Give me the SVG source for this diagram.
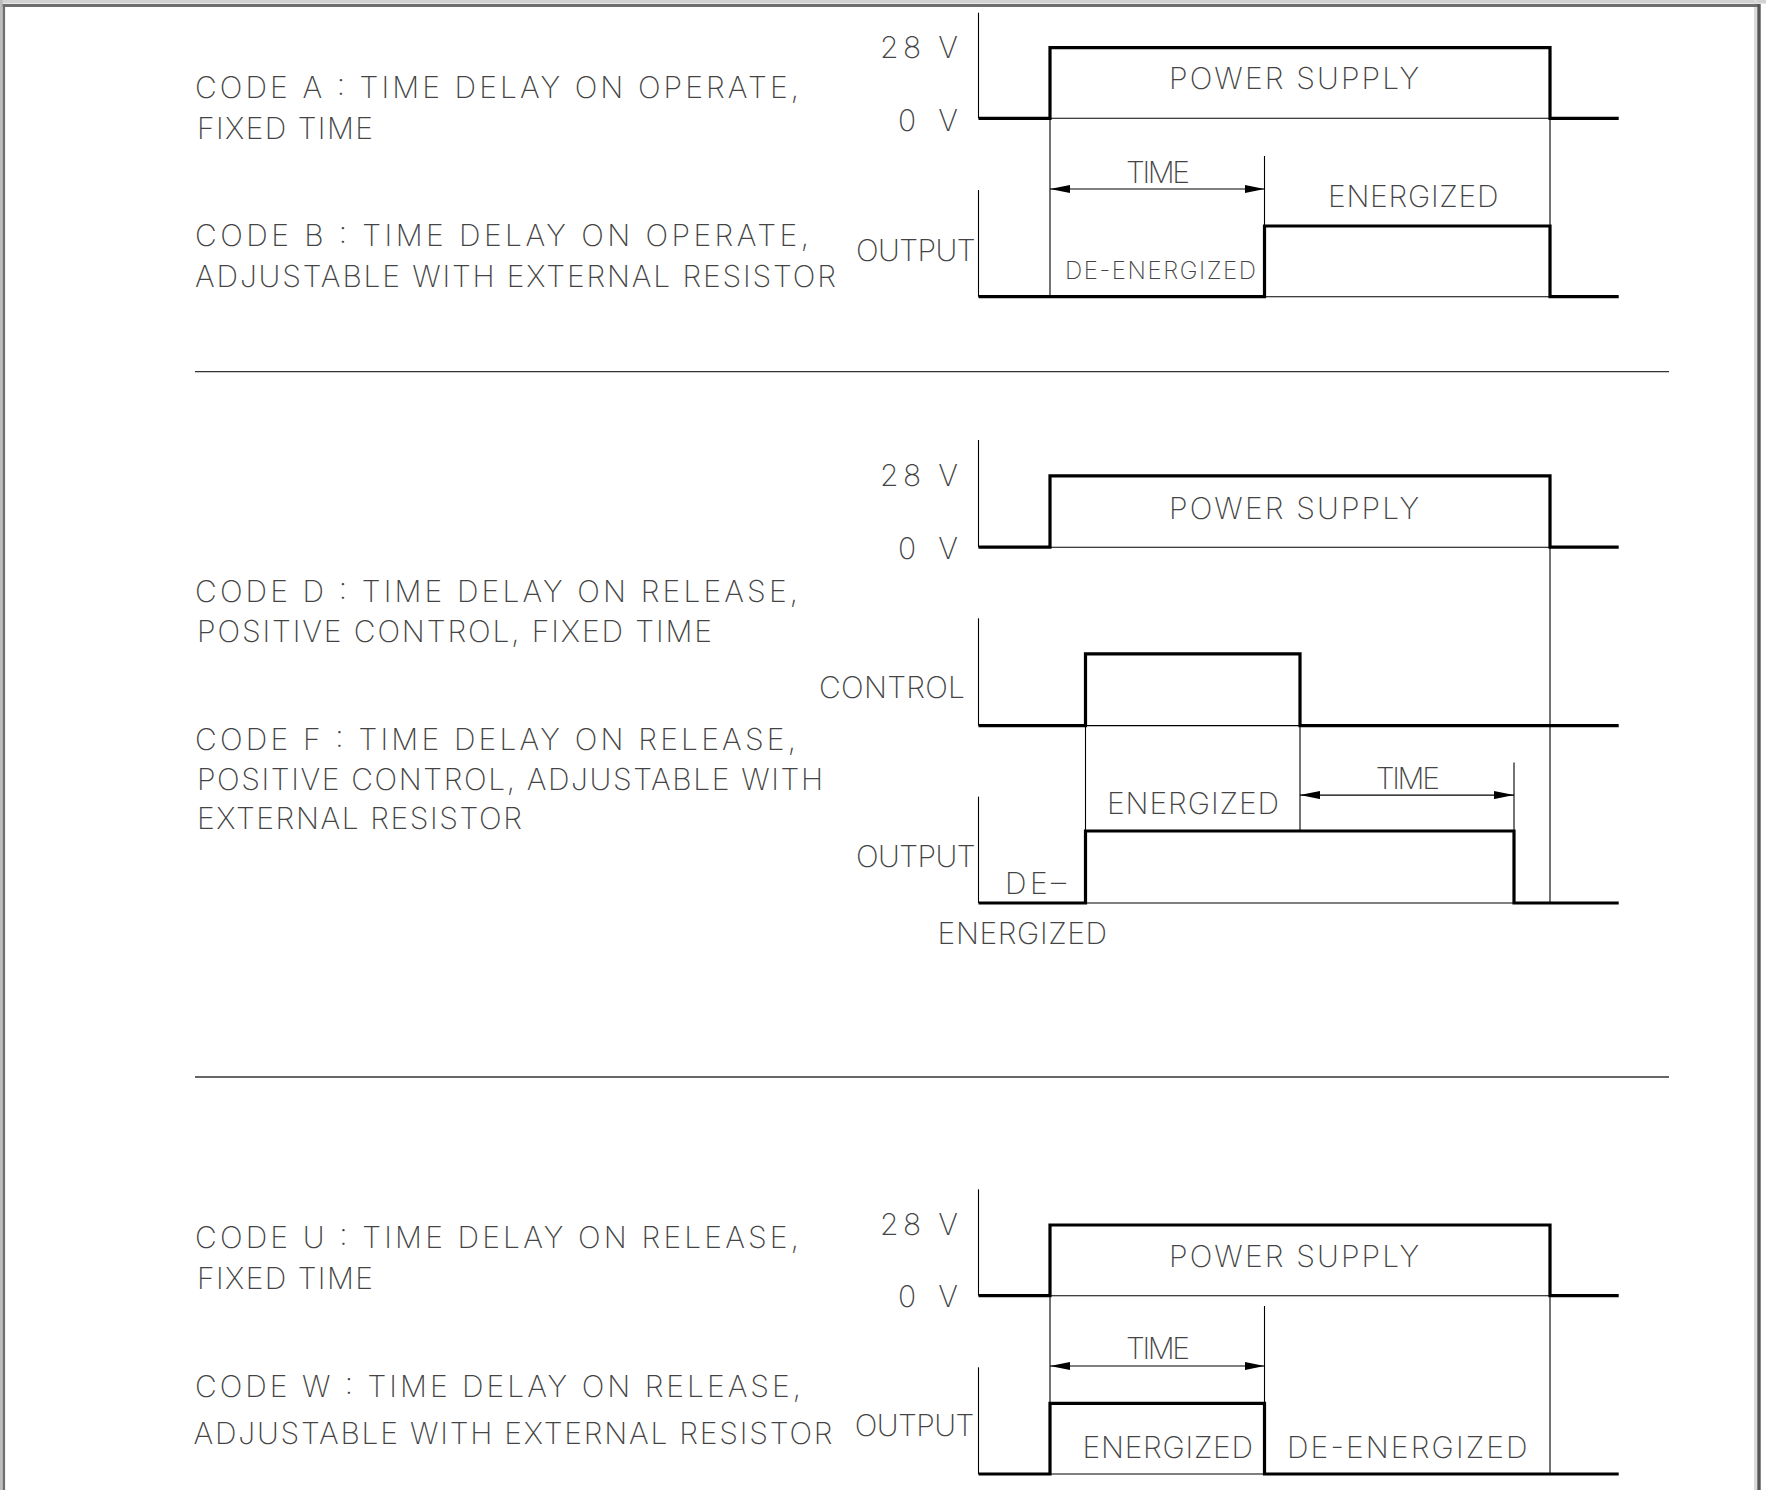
<svg xmlns="http://www.w3.org/2000/svg" width="1766" height="1490" viewBox="0 0 1766 1490">
<style>
text{font-family:"Inter","Liberation Sans",sans-serif;font-weight:200;font-size:30px;fill:#444}
.sm{font-size:24px}
.thick{fill:none;stroke:#000;stroke-width:3.2;stroke-linejoin:miter}
.thin{fill:none;stroke:#000;stroke-width:1.1}
.div{fill:none;stroke:#333;stroke-width:1.3}
.dim{fill:none;stroke:#000;stroke-width:1.2;marker-start:url(#ah);marker-end:url(#ah)}
</style>
<defs>
<marker id="ah" viewBox="0 0 20 8" refX="20" refY="4" markerWidth="20" markerHeight="8" markerUnits="userSpaceOnUse" orient="auto-start-reverse">
<path d="M0,0 L20,4 L0,8 Z" fill="#000"/>
</marker>
</defs>
<rect width="1766" height="1490" fill="#fff"/>
<g id="frame">
<rect x="0" y="0" width="1766" height="3.5" fill="#d2d2d2"/>
<rect x="0" y="0" width="2.7" height="1490" fill="#bcbcbc"/>
<rect x="1754" y="0" width="3.3" height="1490" fill="#dadada"/>
<line x1="2.7" y1="5.5" x2="1758" y2="5.5" stroke="#6e6e6e" stroke-width="3"/>
<line x1="3.9" y1="4" x2="3.9" y2="1490" stroke="#6e6e6e" stroke-width="2.4"/>
<line x1="1759" y1="4" x2="1759" y2="1490" stroke="#555" stroke-width="3.4"/>
</g>
<g id="dividers">
<line class="div" x1="195" y1="371.7" x2="1669" y2="371.7"/>
<line class="div" x1="195" y1="1077" x2="1669" y2="1077"/>
</g>

<!-- Section 1 -->
<g id="desc-a">
<text x="195" y="97.5" textLength="604" lengthAdjust="spacing">CODE A : TIME DELAY ON OPERATE,</text>
<text x="197" y="139" textLength="176" lengthAdjust="spacing">FIXED TIME</text>
</g>
<g id="desc-b">
<text x="195" y="246" textLength="614" lengthAdjust="spacing">CODE B : TIME DELAY ON OPERATE,</text>
<text x="195" y="287" textLength="641" lengthAdjust="spacing">ADJUSTABLE WITH EXTERNAL RESISTOR</text>
</g>
<g id="s1-power">
<text x="880" y="57.7" textLength="78" lengthAdjust="spacing">28 V</text>
<text x="898" y="130.7" textLength="60" lengthAdjust="spacing">0 V</text>
<line class="thin" x1="978.5" y1="12.7" x2="978.5" y2="118.3"/>
<line class="thin" x1="1050" y1="118.3" x2="1550" y2="118.3"/>
<polyline class="thick" points="978.5,118.3 1050,118.3 1050,47.7 1550,47.7 1550,118.3 1618.7,118.3"/>
<text x="1169" y="89.3" textLength="250" lengthAdjust="spacing">POWER SUPPLY</text>
</g>
<g id="s1-output">
<text x="856" y="260.7" textLength="119.6" lengthAdjust="spacing">OUTPUT</text>
<line class="thin" x1="978.5" y1="190" x2="978.5" y2="296.7"/>
<line class="thin" x1="1264.5" y1="296.7" x2="1550" y2="296.7"/>
<polyline class="thick" points="978.5,296.7 1264.5,296.7 1264.5,226 1550,226 1550,296.7 1618.7,296.7"/>
<text x="1328" y="206.7" textLength="170.4" lengthAdjust="spacing">ENERGIZED</text>
<text class="sm" x="1065" y="279.3" textLength="191" lengthAdjust="spacing">DE-ENERGIZED</text>
</g>

<!-- Section 2 -->
<g id="desc-d">
<text x="195" y="601.6" textLength="603" lengthAdjust="spacing">CODE D : TIME DELAY ON RELEASE,</text>
<text x="197" y="642" textLength="515" lengthAdjust="spacing">POSITIVE CONTROL, FIXED TIME</text>
</g>
<g id="desc-f">
<text x="195" y="749.6" textLength="601" lengthAdjust="spacing">CODE F : TIME DELAY ON RELEASE,</text>
<text x="197" y="790" textLength="626" lengthAdjust="spacing">POSITIVE CONTROL, ADJUSTABLE WITH</text>
<text x="197" y="829" textLength="325" lengthAdjust="spacing">EXTERNAL RESISTOR</text>
</g>
<g id="s2-power">
<text x="880" y="485.8" textLength="78" lengthAdjust="spacing">28 V</text>
<text x="898" y="559" textLength="60" lengthAdjust="spacing">0 V</text>
<line class="thin" x1="978.5" y1="440" x2="978.5" y2="547.2"/>
<line class="thin" x1="1050" y1="547.2" x2="1550" y2="547.2"/>
<polyline class="thick" points="978.5,547.2 1050,547.2 1050,475.8 1550,475.8 1550,547.2 1618.7,547.2"/>
<text x="1169" y="519" textLength="250" lengthAdjust="spacing">POWER SUPPLY</text>
</g>
<g id="s2-control">
<text x="819" y="697.8" textLength="146" lengthAdjust="spacing">CONTROL</text>
<line class="thin" x1="978.5" y1="618.3" x2="978.5" y2="725.6"/>
<line class="thin" x1="1085.5" y1="725.6" x2="1300" y2="725.6"/>
<polyline class="thick" points="978.5,725.6 1085.5,725.6 1085.5,653.8 1300,653.8 1300,725.6 1618.7,725.6"/>
</g>
<g id="s2-output">
<text x="856" y="867" textLength="119.6" lengthAdjust="spacing">OUTPUT</text>
<line class="thin" x1="978.5" y1="796.6" x2="978.5" y2="903"/>
<line class="thin" x1="1085.5" y1="903" x2="1514" y2="903"/>
<polyline class="thick" points="978.5,903 1085.5,903 1085.5,831 1514,831 1514,903 1618.7,903"/>
<text x="1107" y="813.6" textLength="172" lengthAdjust="spacing">ENERGIZED</text>
<text x="1005" y="894" textLength="61" lengthAdjust="spacing">DE–</text>
<text x="937.6" y="943.8" textLength="169.4" lengthAdjust="spacing">ENERGIZED</text>
</g>

<!-- Section 3 -->
<g id="desc-u">
<text x="195" y="1248" textLength="604" lengthAdjust="spacing">CODE U : TIME DELAY ON RELEASE,</text>
<text x="197" y="1289" textLength="176" lengthAdjust="spacing">FIXED TIME</text>
</g>
<g id="desc-w">
<text x="195" y="1396.7" textLength="606" lengthAdjust="spacing">CODE W : TIME DELAY ON RELEASE,</text>
<text x="193.5" y="1444" textLength="639" lengthAdjust="spacing">ADJUSTABLE WITH EXTERNAL RESISTOR</text>
</g>
<g id="s3-power">
<text x="880" y="1235" textLength="78" lengthAdjust="spacing">28 V</text>
<text x="898" y="1307" textLength="60" lengthAdjust="spacing">0 V</text>
<line class="thin" x1="978.5" y1="1189.3" x2="978.5" y2="1295.7"/>
<line class="thin" x1="1050" y1="1295.7" x2="1550" y2="1295.7"/>
<polyline class="thick" points="978.5,1295.7 1050,1295.7 1050,1225 1550,1225 1550,1295.7 1618.7,1295.7"/>
<text x="1169" y="1267" textLength="250" lengthAdjust="spacing">POWER SUPPLY</text>
</g>
<g id="s3-output">
<text x="854.7" y="1436" textLength="119.7" lengthAdjust="spacing">OUTPUT</text>
<line class="thin" x1="978.5" y1="1367.3" x2="978.5" y2="1474"/>
<line class="thin" x1="1050" y1="1474" x2="1264.5" y2="1474"/>
<polyline class="thick" points="978.5,1474 1050,1474 1050,1403.3 1264.5,1403.3 1264.5,1474 1618.7,1474"/>
<text x="1082.5" y="1458" textLength="170.5" lengthAdjust="spacing">ENERGIZED</text>
<text x="1287" y="1458" textLength="240.6" lengthAdjust="spacing">DE-ENERGIZED</text>
</g>

<g id="connectors">
<!-- section 1 -->
<line class="thin" x1="1050" y1="118.3" x2="1050" y2="296.7"/>
<line class="thin" x1="1550" y1="118.3" x2="1550" y2="296.7"/>
<line class="thin" x1="1264.5" y1="156" x2="1264.5" y2="226"/>
<line class="dim" x1="1050" y1="189" x2="1264.5" y2="189"/>
<text x="1126" y="182.7" textLength="64" lengthAdjust="spacing">TIME</text>
<!-- section 2 -->
<line class="thin" x1="1550" y1="547.2" x2="1550" y2="903"/>
<line class="thin" x1="1085.5" y1="725.6" x2="1085.5" y2="831"/>
<line class="thin" x1="1300" y1="725.6" x2="1300" y2="831"/>
<line class="thin" x1="1514" y1="762.6" x2="1514" y2="831"/>
<line class="dim" x1="1300" y1="795.1" x2="1514" y2="795.1"/>
<text x="1375.7" y="788.5" textLength="64.3" lengthAdjust="spacing">TIME</text>
<!-- section 3 -->
<line class="thin" x1="1050" y1="1295.7" x2="1050" y2="1403.3"/>
<line class="thin" x1="1550" y1="1295.7" x2="1550" y2="1474"/>
<line class="thin" x1="1264.5" y1="1306" x2="1264.5" y2="1403.3"/>
<line class="dim" x1="1050" y1="1366" x2="1264.5" y2="1366"/>
<text x="1126" y="1359" textLength="64" lengthAdjust="spacing">TIME</text>
</g>
</svg>
